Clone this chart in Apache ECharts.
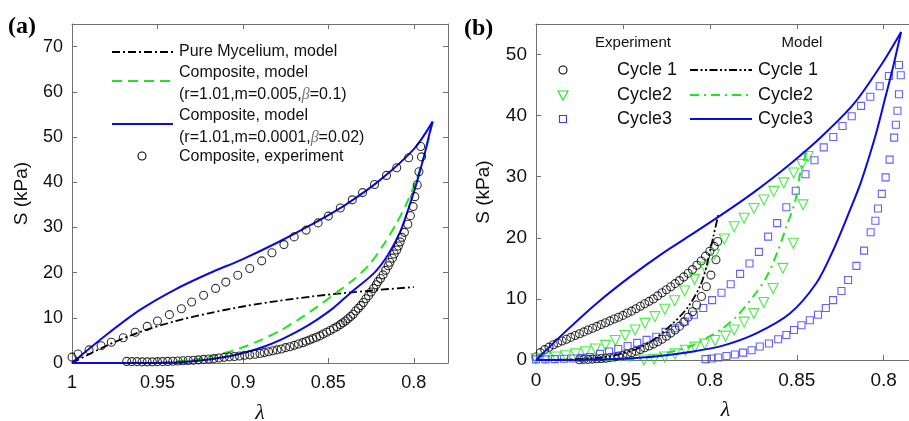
<!DOCTYPE html>
<html><head><meta charset="utf-8">
<script src="https://cdn.jsdelivr.net/npm/echarts@6/dist/echarts.min.js"></script>
<style>html,body{margin:0;padding:0;background:#fff}#c{width:909px;height:421px}</style>
</head><body><div id="c"></div>
<script>
// ---------- Tick labels ----------
const aTickVals = [1, 0.95, 0.9, 0.85, 0.8];
const aTickLabels = ['1', '0.95', '0.9', '0.85', '0.8'];
const bTickVals = [1, 0.95, 0.9, 0.85, 0.8];
const bTickLabels = ['0', '0.95', '0.8', '0.85', '0.8'];
const aYTicks = [0, 10, 20, 30, 40, 50, 60, 70];
const bYTicks = [0, 10, 20, 30, 40, 50];

// ---------- Panel (a) data: [lambda, S (kPa)] ----------
const aMycelium = [[1,0],[0.98,3.8],[0.96,6.9],[0.94,9.2],[0.92,11.0],[0.90,12.5],[0.88,13.7],[0.86,14.7],[0.84,15.5],[0.82,16.2],[0.80,16.8]];
const aGreenModel = [[0.789,53.4],[0.792,48.5],[0.795,44.5],[0.799,40.0],[0.804,35.5],[0.810,31.0],[0.818,26.0],[0.826,21.8],[0.836,18.2],[0.846,15.4],[0.857,12.3],[0.868,9.5],[0.878,7.2],[0.890,5.0],[0.902,3.2],[0.915,1.8],[0.928,0.8],[0.942,0.2],[0.955,0],[1,0]];
const aBlueLoad = [[1,0],[0.98,6.2],[0.96,11.8],[0.94,16.2],[0.92,19.8],[0.90,23.0],[0.88,26.6],[0.86,30.6],[0.84,35.0],[0.82,40.4],[0.80,47.3],[0.789,53.4]];
const aBlueUnload = [[0.789,53.4],[0.791,50.5],[0.7935,46.5],[0.796,43.0],[0.799,39.0],[0.803,34.3],[0.808,29.0],[0.815,24.0],[0.823,20.0],[0.8374,15.4],[0.847,12.2],[0.857,9.5],[0.867,7.2],[0.877,5.3],[0.887,3.7],[0.897,2.5],[0.908,1.5],[0.92,0.8],[0.933,0.3],[0.945,0.05],[0.955,0],[1,0]];
const aExpLoad = [[1.000,1.3],[0.9965,2.0],[0.990,2.9],[0.983,3.8],[0.977,4.6],[0.970,5.6],[0.963,6.8],[0.956,8.1],[0.950,9.3],[0.943,10.7],[0.936,12.0],[0.930,13.5],[0.923,15.0],[0.916,16.5],[0.910,17.9],[0.903,19.4],[0.896,20.9],[0.889,22.6],[0.883,24.4],[0.876,26.2],[0.870,27.9],[0.863,29.4],[0.856,31.0],[0.850,32.5],[0.843,34.3],[0.836,36.1],[0.830,37.7],[0.823,39.5],[0.816,41.5],[0.810,43.2],[0.803,45.4],[0.796,47.9]];
const aExpUnload = [[0.7955,45.6],[0.797,42.3],[0.798,39.4],[0.7994,36.8],[0.8004,34.6],[0.802,32.6],[0.8035,30.7],[0.8055,28.9],[0.807,27.8],[0.808,26.8],[0.809,25.9],[0.810,25.0],[0.8115,24.1],[0.8125,23.2],[0.814,22.3],[0.815,21.5],[0.8165,20.5],[0.818,19.5],[0.8195,18.7],[0.821,18.0],[0.822,17.3],[0.8235,16.5],[0.825,15.7],[0.8265,14.9],[0.828,14.2],[0.8295,13.4],[0.831,12.7],[0.8325,12.1],[0.834,11.5],[0.8355,10.8],[0.837,10.3],[0.8385,9.8],[0.840,9.3],[0.8415,8.9],[0.843,8.5],[0.845,8.0],[0.847,7.6],[0.849,7.2],[0.851,6.8],[0.853,6.4],[0.855,6.0],[0.857,5.7],[0.859,5.4],[0.861,5.1],[0.863,4.8],[0.865,4.5],[0.8675,4.2],[0.870,3.9],[0.8725,3.6],[0.875,3.4],[0.8775,3.1],[0.880,2.9],[0.8825,2.7],[0.885,2.5],[0.8875,2.3],[0.890,2.1],[0.893,1.95],[0.896,1.8],[0.899,1.7],[0.902,1.55],[0.905,1.45],[0.908,1.35],[0.911,1.25],[0.914,1.1],[0.917,1.0],[0.920,0.9],[0.923,0.8],[0.926,0.7],[0.929,0.6],[0.932,0.55],[0.935,0.5],[0.938,0.45],[0.941,0.4],[0.944,0.35],[0.947,0.3],[0.950,0.3],[0.953,0.25],[0.956,0.25],[0.959,0.25],[0.962,0.3],[0.965,0.3],[0.968,0.35]];

// ---------- Panel (b) data: [lambda, S (kPa)] ----------
const bCyc1Load = [[1.000,0.5],[0.9975,1.2],[0.995,1.7],[0.9925,2.1],[0.990,2.5],[0.9875,2.8],[0.985,3.1],[0.9825,3.4],[0.980,3.7],[0.9775,4.0],[0.975,4.3],[0.9725,4.6],[0.970,4.9],[0.9675,5.2],[0.965,5.5],[0.9625,5.8],[0.960,6.1],[0.9575,6.4],[0.955,6.7],[0.9525,7.0],[0.950,7.3],[0.9475,7.7],[0.945,8.0],[0.9425,8.4],[0.940,8.8],[0.9375,9.2],[0.935,9.6],[0.9325,10.0],[0.930,10.5],[0.9275,11.0],[0.925,11.5],[0.9225,12.0],[0.920,12.5],[0.9175,13.0],[0.915,13.6],[0.9125,14.2],[0.910,14.8],[0.9075,15.5],[0.905,16.2],[0.9025,17.0],[0.900,17.8],[0.8975,18.6],[0.8955,19.4]];
const bCyc1Unload = [[0.8965,16.4],[0.8994,13.9],[0.902,12.0],[0.9048,10.4],[0.9076,9.0],[0.910,7.9],[0.9125,7.0],[0.915,6.2],[0.9175,5.5],[0.920,4.9],[0.9225,4.4],[0.925,3.9],[0.9275,3.4],[0.930,3.0],[0.9325,2.6],[0.935,2.3],[0.9375,2.0],[0.940,1.7],[0.9425,1.45],[0.945,1.2],[0.9475,1.0],[0.950,0.8],[0.9525,0.65],[0.955,0.5],[0.9575,0.4],[0.960,0.3],[0.9625,0.25],[0.965,0.2],[0.9675,0.15],[0.970,0.1],[0.9725,0.1],[0.975,0.05]];
const bCyc2Load = [[1.000,0.2],[0.9943,0.35],[0.9886,0.5],[0.9829,0.7],[0.9772,1.0],[0.9715,1.35],[0.9658,1.8],[0.9601,2.4],[0.9544,3.2],[0.9487,4.0],[0.9430,4.9],[0.9373,6.0],[0.9316,7.1],[0.9259,8.3],[0.9202,9.7],[0.9145,11.3],[0.9088,13.2],[0.9031,15.2],[0.8974,17.3],[0.8917,19.8],[0.8860,21.8],[0.8803,23.2],[0.8746,24.8],[0.8689,26.2],[0.8632,27.6],[0.8575,29.0],[0.8518,30.6],[0.8470,32.0],[0.8435,33.3]];
const bCyc2Unload = [[0.8464,25.4],[0.852,19.1],[0.858,15.0],[0.8636,11.7],[0.869,9.4],[0.8747,7.6],[0.8803,6.2],[0.886,4.9],[0.891,3.9],[0.897,3.2],[0.903,2.6],[0.9086,2.1],[0.914,1.6],[0.920,1.0],[0.926,0.5],[0.932,0.1],[0.938,0.0]];
const bCyc3Load = [[1,0.1],[0.9946,0.1],[0.9892,0.15],[0.9838,0.2],[0.9785,0.25],[0.9737,0.35],[0.969,0.5],[0.9632,1.0],[0.958,1.4],[0.9527,1.8],[0.9473,2.3],[0.9418,2.8],[0.9364,3.3],[0.9308,3.8],[0.9255,4.6],[0.920,5.2],[0.9144,6.3],[0.9092,7.4],[0.9038,8.5],[0.8987,9.8],[0.8933,11.0],[0.888,12.4],[0.8826,14.1],[0.8772,15.8],[0.8718,17.7],[0.8665,20.2],[0.8613,22.4],[0.856,25.0],[0.8506,27.7],[0.845,30.4],[0.8398,32.7],[0.8345,34.8],[0.829,36.5],[0.8237,38.3],[0.8184,39.9],[0.813,41.6],[0.8077,43.1],[0.8023,44.8],[0.797,46.5],[0.7912,48.3]];
const bCyc3Unload = [[0.7902,46.6],[0.7912,43.5],[0.7921,40.8],[0.793,38.5],[0.794,36.4],[0.7966,32.8],[0.7989,29.9],[0.8011,27.2],[0.8033,24.8],[0.8048,22.8],[0.8075,20.9],[0.8113,17.9],[0.8157,15.4],[0.8205,13.1],[0.8243,11.3],[0.8291,9.8],[0.8333,8.5],[0.8378,7.4],[0.8425,6.5],[0.8473,5.7],[0.8516,4.9],[0.856,4.1],[0.8607,3.4],[0.866,2.7],[0.8713,2.2],[0.876,1.6],[0.8809,1.2],[0.8856,0.9],[0.8904,0.65],[0.8952,0.4],[0.899,0.25],[0.9025,0.15]];
const bModel1 = [[1,0],[0.98,0.1],[0.96,0.5],[0.945,1.5],[0.934,3.0],[0.922,5.8],[0.9125,8.7],[0.905,12.5],[0.901,16.4],[0.898,20.2],[0.8952,23.7]];
const bModel2 = [[0.8444,34.0],[0.848,30.6],[0.851,25.9],[0.856,21.8],[0.8607,18.0],[0.8674,13.6],[0.875,10.4],[0.8847,7.1],[0.894,4.9],[0.904,3.3],[0.9115,2.2],[0.9245,1.2],[0.938,0.3],[0.95,0],[1,0]];
const bModel3Load = [[1,0],[0.984,4.4],[0.965,9.3],[0.946,13.6],[0.927,17.5],[0.908,21.0],[0.89,24.4],[0.874,27.6],[0.855,31.8],[0.836,36.5],[0.817,42.0],[0.801,48.5],[0.790,53.7]];
const bModel3Unload = [[0.790,53.7],[0.795,47.5],[0.7994,42.6],[0.804,37.5],[0.809,32.7],[0.8135,28.8],[0.8186,25.1],[0.829,18.0],[0.8387,12.6],[0.854,7.6],[0.873,4.4],[0.892,2.4],[0.9115,1.3],[0.93,0.6],[0.95,0.2],[0.97,0.05],[1,0]];

// ---------- Styles ----------
const FONT = '"Liberation Sans", Arial, Helvetica, sans-serif';
const SERIF = '"Liberation Serif", "Times New Roman", serif';
const AX = '#707070';
const BLUE = '#0a0ae6';
const GREEN = '#1ee61e';
const SQBLUE = '#3a3aff';

function fmt(vals, labels) {
  return v => { const i = vals.findIndex(t => Math.abs(t - v) < 1e-6); return i >= 0 ? labels[i] : ''; };
}
function xAx(grid, top, vals, labels, min, fs) {
  return {
    gridIndex: grid, type: 'value', inverse: true, min: min, max: 1,
    position: top ? 'top' : 'bottom',
    axisLine: { show: true, onZero: false, lineStyle: { color: AX, width: 1 } },
    axisTick: { show: true, inside: true, length: 5, customValues: vals, lineStyle: { color: AX } },
    axisLabel: { show: !top, customValues: vals, formatter: fmt(vals, labels), fontSize: fs, color: '#111', fontFamily: FONT, margin: 11 },
    splitLine: { show: false },
    name: top ? '' : 'λ', nameLocation: 'middle', nameGap: 39,
    nameTextStyle: { fontFamily: SERIF, fontStyle: 'italic', fontSize: 22, color: '#111' }
  };
}
function yAx(grid, right, ticks, max, fs, gap) {
  return {
    gridIndex: grid, type: 'value', min: 0, max: max,
    position: right ? 'right' : 'left',
    axisLine: { show: true, onZero: false, lineStyle: { color: AX, width: 1 } },
    axisTick: { show: true, inside: true, length: 5, customValues: ticks, lineStyle: { color: AX } },
    axisLabel: { show: !right, customValues: ticks, fontSize: fs, color: '#111', fontFamily: FONT, margin: 9 },
    splitLine: { show: false },
    name: right ? '' : 'S (kPa)', nameLocation: 'middle', nameGap: gap, nameRotate: 90,
    nameTextStyle: { fontFamily: FONT, fontSize: 19, color: '#111' }
  };
}
function line(xi, data, color, width, dash, z, smooth) {
  return { type: 'line', xAxisIndex: xi, yAxisIndex: xi, data: data, showSymbol: false, symbol: 'none',
    smooth: smooth || false,
    lineStyle: { color: color, width: width, type: dash || 'solid' }, z: z || 2, silent: true, animation: false };
}
function scat(xi, data, symbol, size, color, rot) {
  return { type: 'scatter', xAxisIndex: xi, yAxisIndex: xi, data: data, symbol: symbol, symbolSize: size,
    symbolRotate: rot || 0, itemStyle: { color: 'rgba(0,0,0,0)', borderColor: color, borderWidth: 1.1 }, z: 3, silent: true };
}

// legend helpers (graphic)
const G = [];
function gLine(x1, x2, y, color, w, dash) { G.push({ type: 'line', shape: { x1, y1: y, x2, y2: y }, style: { stroke: color, lineWidth: w, lineDash: dash || null } }); }
function gText(x, y, text, fs, align, rich) { G.push({ type: 'text', x, y, style: { text, font: fs + 'px ' + FONT, fill: '#111', align: align || 'left', verticalAlign: 'middle', rich: rich } }); }
const betaRich = { n: { fontSize: 16, fontFamily: FONT, fill: '#111' }, b: { fontSize: 16, fontFamily: SERIF, fontStyle: 'italic', fill: '#777' } };

// panel labels
G.push({ type: 'text', x: 8, y: 27, style: { text: '(a)', font: 'bold 24px ' + SERIF, fill: '#000', verticalAlign: 'middle' } });
G.push({ type: 'text', x: 464, y: 29, style: { text: '(b)', font: 'bold 24px ' + SERIF, fill: '#000', verticalAlign: 'middle' } });

// legend (a)
gLine(112, 173, 52, '#000', 1.8, [8, 3, 2, 3]);
gText(179, 52, 'Pure Mycelium, model', 16);
gLine(112, 170, 81, GREEN, 2, [10, 6]);
gText(179, 73, 'Composite, model', 16);
gText(179, 95, '{n|(r=1.01,m=0.005,}{b|β}{n|=0.1)}', 16, 'left', betaRich);
gLine(112, 173, 124, BLUE, 2);
gText(179, 116, 'Composite, model', 16);
gText(179, 138, '{n|(r=1.01,m=0.0001,}{b|β}{n|=0.02)}', 16, 'left', betaRich);
G.push({ type: 'circle', shape: { cx: 142, cy: 156, r: 4 }, style: { fill: 'none', stroke: '#000', lineWidth: 1.1 } });
gText(179, 157, 'Composite, experiment', 16);

// legend (b)
gText(633, 43, 'Experiment', 15, 'center');
gText(802, 43, 'Model', 15, 'center');
G.push({ type: 'circle', shape: { cx: 563, cy: 70, r: 4 }, style: { fill: 'none', stroke: '#000', lineWidth: 1.1 } });
G.push({ type: 'polygon', shape: { points: [[558, 91], [568, 91], [563, 100]] }, style: { fill: 'none', stroke: GREEN, lineWidth: 1.1 } });
G.push({ type: 'rect', shape: { x: 559.5, y: 115.5, width: 7, height: 7 }, style: { fill: 'none', stroke: SQBLUE, lineWidth: 1.1 } });
gText(617, 70, 'Cycle 1', 18);
gText(617, 95, 'Cycle2', 18);
gText(617, 119, 'Cycle3', 18);
gLine(690, 752, 70, '#000', 1.8, [8, 2.5, 2, 2.5, 2, 2.5]);
gLine(690, 752, 95, GREEN, 2, [9, 5, 2, 5]);
gLine(690, 752, 119, BLUE, 2);
gText(758, 70, 'Cycle 1', 18);
gText(758, 95, 'Cycle2', 18);
gText(758, 119, 'Cycle3', 18);

const option = {
  animation: false,
  backgroundColor: '#fff',
  grid: [
    { left: 72, top: 24, width: 376, height: 339, outerBoundsMode: 'none', containLabel: false },
    { left: 536, top: 24, width: 379, height: 336, outerBoundsMode: 'none', containLabel: false }
  ],
  xAxis: [
    xAx(0, false, aTickVals, aTickLabels, 0.78, 18),
    xAx(1, false, bTickVals, bTickLabels, 0.782, 19),
    xAx(0, true, aTickVals, aTickLabels, 0.78, 18),
    xAx(1, true, bTickVals, bTickLabels, 0.782, 19)
  ],
  yAxis: [
    yAx(0, false, aYTicks, 75, 18, 41),
    yAx(1, false, bYTicks, 55, 19, 43),
    yAx(0, true, aYTicks, 75, 18, 0)
  ],
  series: [
    line(0, aMycelium, '#000', 1.8, [8, 3, 2, 3], 2, 0.3),
    line(0, aGreenModel, GREEN, 2, [10, 6], 2, 0.3),
    line(0, aBlueLoad, BLUE, 2, null, 2, 0.3),
    line(0, aBlueUnload, BLUE, 2, null, 2, 0.3),
    scat(0, aExpLoad.concat(aExpUnload), 'circle', 8, '#000'),
    scat(1, bCyc1Load.concat(bCyc1Unload), 'circle', 8, '#000'),
    scat(1, bCyc2Load.concat(bCyc2Unload), 'triangle', 10, GREEN, 180),
    scat(1, bCyc3Load.concat(bCyc3Unload), 'rect', 7, SQBLUE),
    line(1, bModel1, '#000', 1.8, [8, 2.5, 2, 2.5, 2, 2.5], 4, 0.3),
    line(1, bModel2, GREEN, 2, [9, 5, 2, 5], 4, 0.3),
    line(1, bModel3Load, BLUE, 2, null, 4, 0.3),
    line(1, bModel3Unload, BLUE, 2, null, 4, 0.3)
  ],
  graphic: G
};
const chart = echarts.init(document.getElementById('c'), null, { renderer: 'canvas' });
chart.setOption(option);
</script>
</body></html>
